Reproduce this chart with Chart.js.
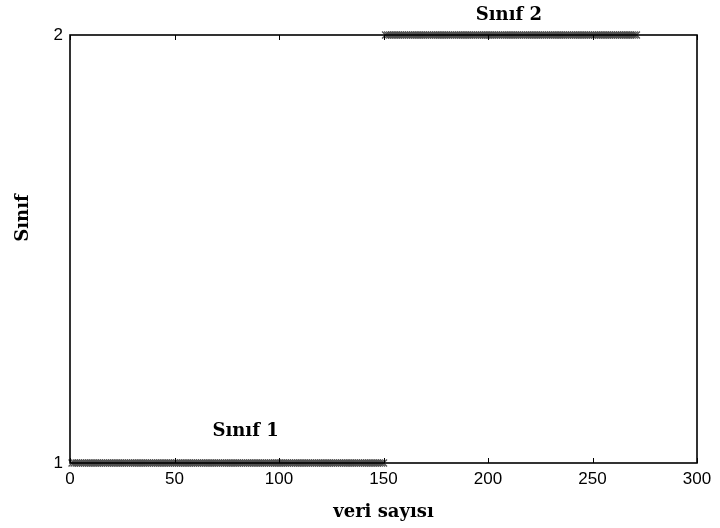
<!DOCTYPE html>
<html>
<head>
<meta charset="utf-8">
<script src="https://cdn.jsdelivr.net/npm/chart.js@4/dist/chart.umd.min.js"></script>
<style>
  html, body { margin: 0; padding: 0; background: #fff; }
  #wrap { width: 720px; height: 528px; }
</style>
</head>
<body>
<div id="wrap"><canvas id="c"></canvas></div>
<script>
// class of each sample, samples 1..150 then 151..271
const sinif1 = [
  1,1,1,1,1,1,1,1,1,1,1,1,1,1,1,1,1,1,1,1,1,1,1,1,1,1,1,1,1,1,
  1,1,1,1,1,1,1,1,1,1,1,1,1,1,1,1,1,1,1,1,1,1,1,1,1,1,1,1,1,1,
  1,1,1,1,1,1,1,1,1,1,1,1,1,1,1,1,1,1,1,1,1,1,1,1,1,1,1,1,1,1,
  1,1,1,1,1,1,1,1,1,1,1,1,1,1,1,1,1,1,1,1,1,1,1,1,1,1,1,1,1,1,
  1,1,1,1,1,1,1,1,1,1,1,1,1,1,1,1,1,1,1,1,1,1,1,1,1,1,1,1,1,1
];
const sinif2 = [
  2,2,2,2,2,2,2,2,2,2,2,2,2,2,2,2,2,2,2,2,2,2,2,2,2,2,2,2,2,2,
  2,2,2,2,2,2,2,2,2,2,2,2,2,2,2,2,2,2,2,2,2,2,2,2,2,2,2,2,2,2,
  2,2,2,2,2,2,2,2,2,2,2,2,2,2,2,2,2,2,2,2,2,2,2,2,2,2,2,2,2,2,
  2,2,2,2,2,2,2,2,2,2,2,2,2,2,2,2,2,2,2,2,2,2,2,2,2,2,2,2,2,2,
  2
];
const xTicks = [0, 50, 100, 150, 200, 250, 300];
const yTicks = [1, 2];
const classLabels = ['Sınıf 1', 'Sınıf 2'];
const labelX = [84, 210];

const pts1 = sinif1.map((v, i) => ({ x: i + 1, y: v }));
const pts2 = sinif2.map((v, i) => ({ x: sinif1.length + i + 1, y: v }));

const serif = '"DejaVu Serif", "Liberation Serif", serif';

const framePlugin = {
  id: 'frame',
  afterDraw(chart) {
    const ctx = chart.ctx;
    const a = chart.chartArea;
    const xs = chart.scales.x, ys = chart.scales.y;
    ctx.save();
    ctx.strokeStyle = '#000';
    ctx.lineWidth = 1.6;
    ctx.strokeRect(a.left, a.top, a.right - a.left, a.bottom - a.top);
    // inside tick marks
    ctx.lineWidth = 1;
    xTicks.forEach(t => {
      const px = Math.round(xs.getPixelForValue(t)) + 0.5;
      ctx.beginPath();
      ctx.moveTo(px, a.bottom); ctx.lineTo(px, a.bottom - 5);
      ctx.moveTo(px, a.top); ctx.lineTo(px, a.top + 5);
      ctx.stroke();
    });
    // class annotations
    ctx.fillStyle = '#000';
    ctx.font = 'bold 18px ' + serif;
    ctx.textAlign = 'center';
    ctx.textBaseline = 'middle';
    ctx.fillText(classLabels[0], xs.getPixelForValue(labelX[0]), ys.getPixelForValue(1) - 32);
    ctx.fillText(classLabels[1], xs.getPixelForValue(labelX[1]), ys.getPixelForValue(2) - 20);
    // axis titles
    ctx.fillText('veri sayısı', (a.left + a.right) / 2, 512);
    ctx.translate(23, 218);
    ctx.rotate(-Math.PI / 2);
    ctx.fillText('Sınıf', 0, 0);
    ctx.restore();
  }
};

const pointStyle = {
  type: 'scatter',
  pointStyle: 'crossRot',
  pointRadius: 5,
  pointBorderWidth: 1.3,
  borderColor: '#505050',
  backgroundColor: '#505050',
  clip: false
};

new Chart(document.getElementById('c'), {
  type: 'scatter',
  data: {
    datasets: [
      Object.assign({ label: 'Sınıf 1', data: pts1 }, pointStyle),
      Object.assign({ label: 'Sınıf 2', data: pts2 }, pointStyle)
    ]
  },
  options: {
    responsive: true,
    maintainAspectRatio: false,
    animation: false,
    layout: { padding: { left: 0, top: 35, right: 23, bottom: 0 } },
    plugins: { legend: { display: false }, tooltip: { enabled: false } },
    scales: {
      x: {
        type: 'linear',
        min: 0, max: 300,
        afterBuildTicks: s => { s.ticks = xTicks.map(v => ({ value: v })); },
        afterFit: s => { s.height = 65; },
        grid: { display: false, drawTicks: false },
        border: { display: false },
        ticks: { color: '#000', padding: 6, font: { family: '"Liberation Sans", sans-serif', size: 17 } }
      },
      y: {
        type: 'linear',
        min: 1, max: 2,
        afterBuildTicks: s => { s.ticks = yTicks.map(v => ({ value: v })); },
        afterFit: s => { s.width = 70; },
        grid: { display: false, drawTicks: false },
        border: { display: false },
        ticks: { color: '#000', padding: 7, font: { family: '"Liberation Sans", sans-serif', size: 17 } }
      }
    }
  },
  plugins: [framePlugin]
});
</script>
</body>
</html>
